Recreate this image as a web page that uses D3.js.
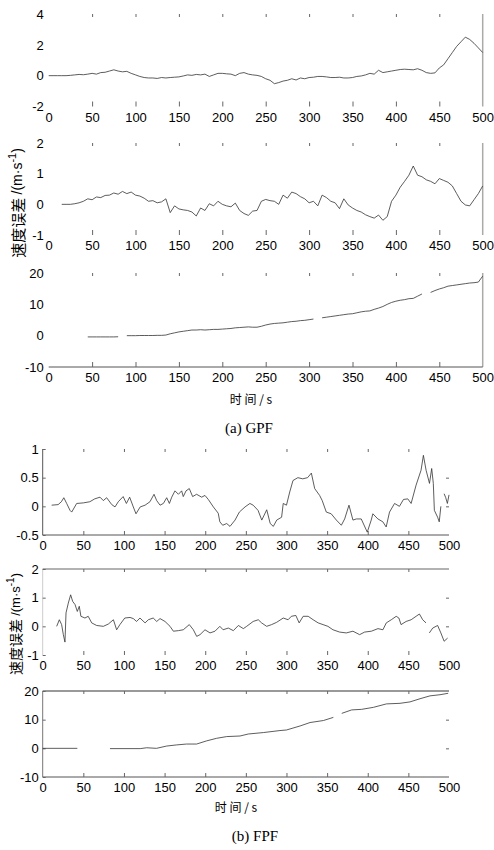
<!DOCTYPE html>
<html>
<head>
<meta charset="utf-8">
<script src="https://cdn.jsdelivr.net/npm/d3@7"></script>
<style>
  body { margin: 0; background: #fff; }
  svg { display: block; }
  .tick text { font-family: "Liberation Sans", Arial, sans-serif; font-size: 13px; fill: #000; }
  .tick line { stroke: #666; }
</style>
</head>
<body>
<svg id="chart" width="494" height="850"></svg>
<script>
/////////   Data   /////////

const timeTicks = [0, 50, 100, 150, 200, 250, 300, 350, 400, 450, 500];

// (a) GPF, panel 1 : t = 0..500 every 5 s
const gpf1 = [0, 0, 0, 0, 0, 0.02, 0.05, 0.08, 0.06, 0.1, 0.15, 0.1, 0.2, 0.22, 0.3, 0.38,
  0.3, 0.25, 0.28, 0.15, 0.05, -0.05, -0.12, -0.15, -0.15, -0.18, -0.12, -0.15, -0.12, -0.1,
  -0.08, -0.02, 0.05, 0.02, 0.08, 0.05, 0.1, -0.05, 0.05, 0.15, 0.15, 0.12, 0.1, 0.0, 0.15,
  0.2, 0.1, 0.05, 0.02, -0.05, -0.2, -0.3, -0.52, -0.45, -0.35, -0.3, -0.2, -0.28, -0.15, -0.2,
  -0.12, -0.1, -0.05, -0.05, -0.08, -0.12, -0.12, -0.1, -0.15, -0.15, -0.12, -0.05, -0.02, 0.05,
  0.15, 0.1, 0.35, 0.2, 0.25, 0.3, 0.35, 0.4, 0.42, 0.4, 0.38, 0.45, 0.35, 0.2, 0.15, 0.18,
  0.5, 0.7, 1.1, 1.5, 1.9, 2.2, 2.5, 2.35, 2.1, 1.8, 1.5];

// (a) GPF, panel 2 : t = 15..500 every 5 s
const gpf2 = [0, 0, 0, 0.02, 0.05, 0.1, 0.18, 0.15, 0.24, 0.22, 0.29, 0.3, 0.37, 0.33, 0.42,
  0.35, 0.4, 0.3, 0.27, 0.2, 0.1, 0.12, 0.05, 0.08, 0.18, -0.27, -0.05, -0.15, -0.18, -0.2,
  -0.25, -0.38, -0.12, -0.2, 0.02, -0.05, 0.1, 0.0, -0.05, -0.08, 0.04, -0.2, -0.3, -0.36,
  -0.22, -0.2, 0.1, 0.16, 0.12, 0.1, 0.0, 0.3, 0.2, 0.4, 0.35, 0.25, 0.18, 0.05, 0.1, -0.05,
  0.3, 0.22, 0.1, 0.05, -0.14, 0.18, -0.02, -0.12, -0.2, -0.25, -0.34, -0.4, -0.45, -0.35,
  -0.52, -0.4, 0.1, 0.3, 0.56, 0.75, 0.95, 1.25, 0.95, 0.9, 0.8, 0.75, 0.67, 0.84, 0.78, 0.72,
  0.6, 0.35, 0.1, -0.02, -0.05, 0.15, 0.35, 0.6];

// (a) GPF, panel 3 : t = 45..500 every 5 s (null = gap in the trace)
const gpf3 = [-0.4, -0.4, -0.4, -0.4, -0.4, -0.4, -0.4, -0.35, null, 0, 0, 0, 0.05, 0.05, 0.05,
  0.05, 0.1, 0.1, 0.2, 0.6, 0.9, 1.2, 1.4, 1.6, 1.8, 1.8, 1.9, 1.8, 1.9, 2.0, 2.0, 2.1, 2.2,
  2.3, 2.5, 2.6, 2.7, 2.8, 2.7, 2.7, 3.0, 3.4, 3.7, 3.9, 4.0, 4.1, 4.3, 4.5, 4.6, 4.8, 4.9,
  5.1, 5.3, null, 5.7, 5.9, 6.1, 6.3, 6.5, 6.7, 6.9, 7.0, 7.3, 7.6, 7.8, 7.9, 8.4, 8.8, 9.3,
  10.0, 10.6, 11.0, 11.3, 11.5, 11.8, 11.9, 12.6, 13.3, null, 13.8, 14.4, 14.9, 15.3, 15.8,
  16.0, 16.2, 16.4, 16.6, 16.8, 16.9, 17.1, 19];

// (b) FPF, panel 1
const fpf1T = [11, 19, 23, 26, 29.5, 33.6, 35.7, 41.8, 50, 58, 64, 70.5, 74.6, 78.7, 85, 89, 93,
  99, 103, 107, 111.5, 114.8, 120, 126, 132, 137, 140.3, 144.4, 148.5, 152.6, 155.9, 158.8,
  162.8, 167, 171, 173, 176.4, 180.4, 184.5, 189.4, 195.6, 199.7, 203.8, 210, 216, 218, 221.5,
  226.4, 230.5, 236.7, 242, 249, 255, 259, 265, 269.6, 275.7, 280, 283.8, 288, 294, 296, 300,
  304, 308, 314, 320, 326, 330.6, 334.7, 340.8, 344, 349, 355, 361.4, 367.5, 371.6, 376.9,
  381.8, 386, 392, 399.4, 404.3, 406.3, 412.5, 418.6, 422.7, 426.8, 433, 439, 444, 449.3,
  453.4, 459.5, 465.6, 468.5, 471.8, 476, 478.7, 480.7, 482, 486, 488, 490, 492, 494, 496,
  498, 500];
const fpf1 = [0.02, 0.03, 0.08, 0.15, 0.05, -0.07, -0.1, 0.05, 0.06, 0.08, 0.13, 0.16, 0.1,
  0.15, 0.03, -0.01, 0.08, 0.17, 0.05, 0.16, -0.01, -0.13, -0.01, 0.02, 0.08, 0.21, 0.1, 0.02,
  0.05, 0.15, 0.05, 0.16, 0.27, 0.21, 0.27, 0.17, 0.27, 0.31, 0.17, 0.21, 0.16, 0.19, 0.12,
  -0.01, -0.12, -0.27, -0.33, -0.3, -0.35, -0.24, -0.1, -0.01, 0.05, 0.02, -0.07, -0.24,
  -0.06, -0.3, -0.35, -0.24, -0.19, 0.05, 0.02, 0.25, 0.45, 0.5, 0.48, 0.5, 0.58, 0.31, 0.19,
  0.1, -0.1, -0.13, -0.24, -0.33, -0.22, 0.02, -0.24, -0.22, -0.22, -0.45, -0.24, -0.13,
  -0.22, -0.27, -0.36, -0.1, 0.05, 0.0, 0.12, 0.13, 0.05, 0.37, 0.63, 0.89, 0.63, 0.4, 0.66,
  0.4, -0.07, -0.19, -0.27, 0.0, null, 0.22, 0.15, 0.05, 0.2];

// (b) FPF, panel 2
const fpf2T = [17.2, 20.5, 23.3, 25.4, 27.4, 28.7, 31.5, 34.4, 36.9, 39.8, 42.6, 45, 47, 52,
  56, 60.3, 66.4, 74.6, 80.8, 87, 91, 95, 101, 107.5, 111.5, 115.6, 119.7, 126, 130, 136,
  140.3, 144.4, 150.5, 156.7, 160.8, 167, 173, 180.4, 185.4, 189.5, 193.6, 199.7, 205.9, 212,
  218, 222, 228.4, 234.6, 240.8, 246.9, 251, 259, 265.3, 269.4, 275.6, 281.7, 287.9, 296, 302,
  306, 311.5, 315.6, 320.5, 326.7, 332.8, 339, 345, 351, 357.2, 365.4, 373.6, 381.8, 390,
  396.2, 404.4, 412.6, 418.7, 422.8, 429, 435, 438.3, 441, 447.2, 453.4, 459.5, 463.6, 467.6,
  471.7, 473.5, 475.8, 480, 486, 490, 494, 498.3];
const fpf2 = [0, 0.23, 0.06, -0.29, -0.55, 0.47, 0.81, 1.1, 0.87, 0.76, 0.52, 0.7, 0.35, 0.29,
  0.35, 0.12, 0.03, 0, 0.08, 0.23, -0.12, 0.06, 0.29, 0.31, 0.27, 0.17, 0.29, 0.12, 0.23, 0.29,
  0.17, 0.27, 0.17, 0, -0.17, -0.15, -0.12, 0.06, -0.12, -0.35, -0.29, -0.12, -0.23, -0.17, 0,
  -0.12, -0.06, -0.15, 0.03, -0.08, 0, 0.17, 0.23, 0.12, 0, 0.06, 0.14, 0.29, 0.23, 0.35, 0.38,
  0.12, 0.35, 0.35, 0.23, 0.12, 0.06, 0, -0.12, -0.2, -0.23, -0.17, -0.29, -0.2, -0.17, -0.08,
  -0.12, 0.12, 0.23, 0.35, 0.29, 0.06, 0.17, 0.23, 0.35, 0.43, 0.23, 0.12, null, -0.23, -0.06,
  0.03, -0.23, -0.52, -0.41];

// (b) FPF, panel 3
const fpf3T = [0, 42.6, 60, 82.8, 100, 120, 128, 140, 152.6, 165, 177, 189.4, 201.7, 214, 226.4,
  242.8, 253, 271.5, 292, 300, 316.7, 329, 345.5, 357.7, 362, 368, 380.2, 392.5, 407, 423,
  439.7, 452, 464.3, 476.6, 488.9, 499];
const fpf3 = [0, 0, null, -0.1, -0.1, -0.1, 0.2, 0, 0.8, 1.2, 1.5, 1.5, 2.6, 3.5, 4.1, 4.3, 5.0,
  5.5, 6.2, 6.4, 7.8, 9.0, 9.7, 10.8, null, 12.2, 13.4, 13.6, 14.3, 15.5, 15.7, 16.2, 17.3,
  18.3, 18.7, 19.2];

/////////   Panels   /////////

const svg = d3.select("#chart");
const xa = [48.7, 482.7];
const xb = [42.7, 449];

const panels = [
  { pts: gpf1.map((v, i) => ({ t: i * 5, v: v })), xr: xa, yd: [-2, 4], yr: [106.5, 14],
    yTicks: [-2, 0, 2, 4], side: "a", frame: { right: "#aaa" } },
  { pts: gpf2.map((v, i) => ({ t: 15 + i * 5, v: v })), xr: xa, yd: [-1, 2], yr: [235, 143],
    yTicks: [-1, 0, 1, 2], side: "a", frame: { right: "#aaa" } },
  { pts: gpf3.map((v, i) => ({ t: 45 + i * 5, v: v })), xr: xa, yd: [-10, 20], yr: [367, 273],
    yTicks: [-10, 0, 10, 20], side: "a", frame: { right: "#aaa", bottom: "#555" } },
  { pts: fpf1.map((v, i) => ({ t: fpf1T[i], v: v })), xr: xb, yd: [-0.5, 1], yr: [535, 449],
    yTicks: [-0.5, 0, 0.5, 1], side: "b", frame: { left: "#555", bottom: "#555" } },
  { pts: fpf2.map((v, i) => ({ t: fpf2T[i], v: v })), xr: xb, yd: [-1, 2], yr: [655, 569],
    yTicks: [-1, 0, 1, 2], side: "b", frame: { top: "#999", left: "#ccc" } },
  { pts: fpf3.map((v, i) => ({ t: fpf3T[i], v: v })), xr: xb, yd: [-10, 20], yr: [777, 691],
    yTicks: [-10, 0, 10, 20], side: "b", frame: { top: "#777", left: "#777", bottom: "#555" } },
];

function drawPanel(p) {
  const x = d3.scaleLinear().domain([0, 500]).range(p.xr);
  const y = d3.scaleLinear().domain(p.yd).range(p.yr);
  const g = svg.append("g");
  const noDomain = (s) => s.select(".domain").remove();

  // frame lines (only the sides that survive in the scan)
  const f = p.frame;
  if (f.left) g.append("line").attr("x1", x(0)).attr("x2", x(0)).attr("y1", y.range()[0]).attr("y2", y.range()[1])
    .attr("stroke", f.left).attr("stroke-width", 1);
  if (f.right) g.append("line").attr("x1", x(500)).attr("x2", x(500)).attr("y1", y.range()[0]).attr("y2", y.range()[1])
    .attr("stroke", f.right).attr("stroke-width", 1.5);
  if (f.top) g.append("line").attr("x1", x(0)).attr("x2", x(500)).attr("y1", y.range()[1]).attr("y2", y.range()[1])
    .attr("stroke", f.top).attr("stroke-width", 1.3);
  if (f.bottom) g.append("line").attr("x1", x(0)).attr("x2", x(500)).attr("y1", y.range()[0]).attr("y2", y.range()[0])
    .attr("stroke", f.bottom).attr("stroke-width", 1);

  // top x ticks
  g.append("g").attr("transform", `translate(0,${y.range()[1]})`)
    .call(d3.axisTop(x).tickValues(timeTicks.slice(1, 10)).tickSize(-3).tickFormat(""))
    .call(noDomain);

  // bottom x ticks + labels
  g.append("g").attr("transform", `translate(0,${y.range()[0]})`)
    .call(d3.axisBottom(x).tickValues(timeTicks).tickFormat((d) => d)
      .tickSize(p.side === "a" ? -5 : -4).tickPadding(6))
    .call(noDomain)
    .call((s) => s.selectAll(".tick").filter((d) => d === 0 || d === 500).select("line").remove());

  // left y labels
  g.append("g").attr("transform", `translate(${x(0)},0)`)
    .call(d3.axisLeft(y).tickValues(p.yTicks).tickFormat((d) => d)
      .tickSize(p.side === "a" ? 0 : -3).tickPadding(p.side === "a" ? 5 : 4))
    .call(noDomain);

  // right y ticks for (b)
  if (p.side === "b") {
    g.append("g").attr("transform", `translate(${x(500)},0)`)
      .call(d3.axisRight(y).tickValues(p.yTicks.slice(1, 3)).tickSize(-3).tickFormat(""))
      .call(noDomain);
  }

  const line = d3.line()
    .defined((d) => d.v != null)
    .x((d) => x(d.t))
    .y((d) => y(d.v));

  g.append("path")
    .datum(p.pts)
    .attr("d", line)
    .attr("fill", "none")
    .attr("stroke", "#333")
    .attr("stroke-width", 0.8);
}

panels.forEach(drawPanel);

/////////   Labels   /////////

const cjk = '"Noto Sans CJK SC", sans-serif';
const sans = '"Liberation Sans", Arial, sans-serif';
const serif = '"Liberation Serif", "DejaVu Serif", serif';

function yLabel(cx, cy, size) {
  const t = svg.append("text")
    .attr("transform", `translate(${cx},${cy}) rotate(-90)`)
    .attr("text-anchor", "middle")
    .attr("dominant-baseline", "central");
  t.append("tspan").attr("font-family", cjk).attr("font-size", size).text("速度误差 ");
  t.append("tspan").attr("font-family", sans).attr("font-size", size - 1).text("/(m·s");
  t.append("tspan").attr("font-family", sans).attr("font-size", size - 4).attr("dy", -5).text("-1");
  t.append("tspan").attr("font-family", sans).attr("font-size", size - 1).attr("dy", 5).text(")");
}
yLabel(17, 203, 15);
yLabel(15, 624, 14);

function xLabel(cx, cy) {
  svg.append("text")
    .attr("x", cx).attr("y", cy)
    .attr("text-anchor", "middle")
    .attr("dominant-baseline", "central")
    .attr("font-family", cjk)
    .attr("font-size", 12)
    .text("时 间 / s");
}
xLabel(251, 398);
xLabel(236, 806);

function caption(cx, baseline, txt) {
  svg.append("text")
    .attr("x", cx).attr("y", baseline)
    .attr("text-anchor", "middle")
    .attr("font-family", serif)
    .attr("font-size", 15)
    .text(txt);
}
caption(249, 433, "(a) GPF");
caption(255, 841, "(b) FPF");
</script>
</body>
</html>
